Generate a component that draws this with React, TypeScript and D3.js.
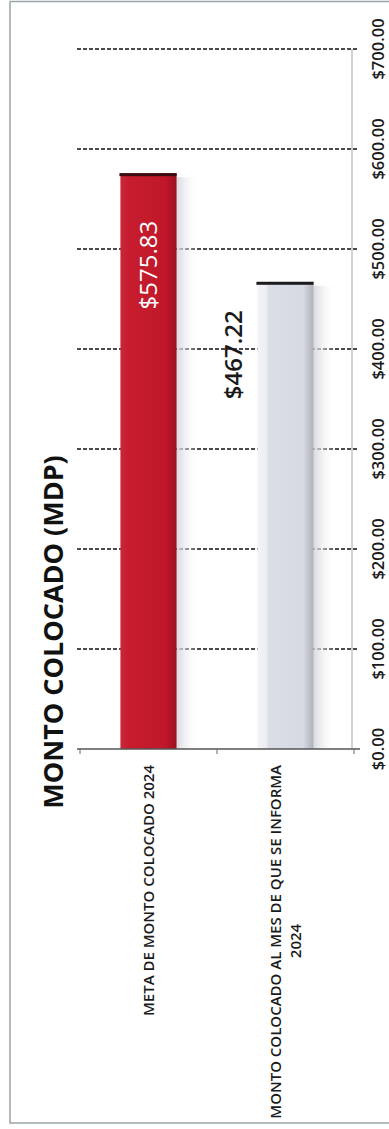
import React from "react";
import * as d3 from "d3";

const categories: string[][] = [
  ["META DE MONTO COLOCADO 2024"],
  ["MONTO COLOCADO AL MES DE QUE SE INFORMA", "2024"],
];
const values: number[] = [575.83, 467.22];
const valueLabels: string[] = ["$575.83", "$467.22"];
const ticks: number[] = [0, 100, 200, 300, 400, 500, 600, 700];
const title = "MONTO COLOCADO (MDP)";

const W = 389;
const H = 1129;
const FONT = "'Open Sans', 'DejaVu Sans', sans-serif";

export default function App() {
  const y = d3.scaleLinear().domain([0, 700]).range([749, 49]);
  const x = d3
    .scaleBand<number>()
    .domain(categories.map((_, i) => i))
    .range([80, 354])
    .paddingInner(0.59)
    .paddingOuter(0.295);
  const fmt = (v: number) => "$" + d3.format(",.2f")(v);
  const bw = x.bandwidth();
  const gridX0 = 77;
  const gridX1 = 358;
  const axisX = 352;

  return (
    <svg
      width={W}
      height={H}
      style={{ position: "absolute", left: 0, top: 0, background: "#fff" }}
      fontFamily={FONT}
    >
      <defs>
        <linearGradient id="redG" x1="0" x2="1" y1="0" y2="0">
          <stop offset="0" stopColor="#c8283a" />
          <stop offset="0.15" stopColor="#c61c2e" />
          <stop offset="0.8" stopColor="#c0182a" />
          <stop offset="1" stopColor="#9a1020" />
        </linearGradient>
        <linearGradient id="grayG" x1="0" x2="1" y1="0" y2="0">
          <stop offset="0" stopColor="#f4f4f7" />
          <stop offset="0.16" stopColor="#eceef2" />
          <stop offset="0.2" stopColor="#dcdee7" />
          <stop offset="0.82" stopColor="#d6d8e2" />
          <stop offset="0.9" stopColor="#c4c6d0" />
          <stop offset="1" stopColor="#aeb0ba" />
        </linearGradient>
        <linearGradient id="shadowG" x1="0" x2="1" y1="0" y2="0">
          <stop offset="0" stopColor="#d4d5dc" stopOpacity="0.9" />
          <stop offset="1" stopColor="#ffffff" stopOpacity="0" />
        </linearGradient>
      </defs>

      {/* outer border */}
      <rect x={10} y={1.5} width={W + 20} height={1121.5} fill="none" stroke="#9aa5a8" strokeWidth={1.5} />

      {/* gridlines */}
      {ticks
        .filter((t) => t > 0)
        .map((t) => (
          <line
            key={"g" + t}
            x1={gridX0}
            x2={gridX1}
            y1={y(t)}
            y2={y(t)}
            stroke="#111"
            strokeWidth={1.6}
            strokeDasharray="4 2"
          />
        ))}

      {/* value axis line */}
      <line x1={axisX} x2={axisX} y1={y(700)} y2={y(0)} stroke="#a9b7bd" strokeWidth={1.2} />

      {/* bars */}
      {values.map((v, i) => {
        const bx = x(i)!;
        const top = y(v);
        const h = y(0) - top;
        return (
          <g key={"b" + i}>
            <rect x={bx + bw} y={top + 4} width={22} height={h - 4} fill="url(#shadowG)" />
            <rect x={bx} y={top} width={bw} height={h} fill={i === 0 ? "url(#redG)" : "url(#grayG)"} />
            <rect x={bx - 1} y={top} width={bw + 1} height={3} fill={i === 0 ? "#3a0e10" : "#1c1c1c"} />
          </g>
        );
      })}

      {/* category axis */}
      <line x1={gridX0} x2={gridX1 + 2} y1={y(0)} y2={y(0)} stroke="#555" strokeWidth={1.3} />
      {[0, 1, 2].map((k) => {
        const tx = 80 + k * x.step();
        return <line key={"t" + k} x1={tx} x2={tx} y1={y(0)} y2={y(0) + 5} stroke="#666" strokeWidth={1} />;
      })}

      {/* value labels */}
      <text
        transform={`translate(${x(0)! + bw / 2 + 8}, ${y(values[0]) + 92}) rotate(-90)`}
        textAnchor="middle"
        fill="#fff"
        fontSize={24}
      >
        {valueLabels[0]}
      </text>
      <text
        transform={`translate(${x(1)! + bw / 2 - 44}, ${y(values[1]) + 73}) rotate(-90)`}
        textAnchor="middle"
        fill="#1a1a1a"
        fontSize={24}
        fontWeight={600}
      >
        {valueLabels[1]}
      </text>

      {/* value axis tick labels */}
      {ticks.map((t) => (
        <text
          key={"l" + t}
          transform={`translate(${384}, ${y(t)}) rotate(-90)`}
          textAnchor="middle"
          fill="#1a1a1a"
          fontSize={16.5}
          fontWeight={600}
        >
          {fmt(t)}
        </text>
      ))}

      {/* category labels */}
      {categories.map((lines, i) => {
        const cx = x(i)! + bw / 2;
        const lh = 20;
        const n = lines.length;
        return lines.map((ln, j) => (
          <text
            key={"c" + i + "-" + j}
            transform={`translate(${cx + (j - (n - 1) / 2) * lh + 5}, ${y(0) + 16}) rotate(-90)`}
            textAnchor={n > 1 && j > 0 ? "middle" : "end"}
            dx={n > 1 && j > 0 ? -176 : 0}
            fill="#1a1a1a"
            fontSize={15}
            fontWeight={600}
          >
            {ln}
          </text>
        ));
      })}

      {/* title */}
      <text
        transform={`translate(${63}, ${632}) rotate(-90)`}
        textAnchor="middle"
        fill="#111"
        fontSize={27}
        fontWeight={700}
      >
        {title}
      </text>
    </svg>
  );
}
